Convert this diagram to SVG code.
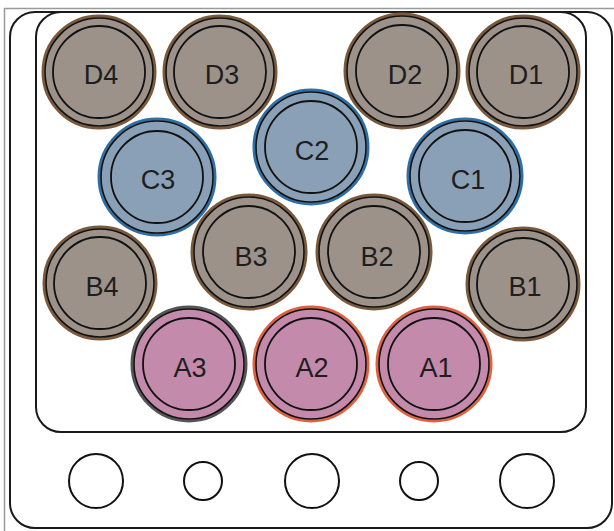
<svg xmlns="http://www.w3.org/2000/svg" width="614" height="531" viewBox="0 0 614 531">
<style>
.frame{fill:none;stroke:#1a1a1a;stroke-width:2}
.edge{fill:none;stroke:#111;stroke-width:1.6}
.inner{fill:none;stroke:#111;stroke-width:1.8}
.brown{fill:#9c928a;stroke:#7a5a3c;stroke-width:3}
.blue{fill:#8aa0b6;stroke:#2f6fa8;stroke-width:3}
.pinkg{fill:#c38aab;stroke:#555;stroke-width:3}
.pinkr{fill:#c38aab;stroke:#e0613f;stroke-width:3}
.hole{fill:#fff;stroke:#111;stroke-width:2}
text{font-family:"Liberation Sans",Arial,sans-serif;font-size:27px;fill:#1e1e1e;text-anchor:middle}
</style>
<rect width="614" height="531" fill="#fff"/>
<path d="M4.5 531 V8.5 H614" fill="none" stroke="#9a9a9a" stroke-width="1.5"/>
<g id="plate">
<rect class="frame" x="10" y="12" width="602" height="516" rx="25"/>
<rect class="frame" x="36" y="12" width="550" height="420" rx="25"/>
</g>
<g id="D4"><circle class="brown" cx="99" cy="72" r="56"/><circle class="edge" cx="99" cy="72" r="54"/><circle class="inner" cx="99" cy="72" r="46"/><text x="101" y="84">D4</text></g>
<g id="D3"><circle class="brown" cx="220" cy="72" r="56"/><circle class="edge" cx="220" cy="72" r="54"/><circle class="inner" cx="220" cy="72" r="46"/><text x="222" y="84">D3</text></g>
<g id="D2"><circle class="brown" cx="402" cy="71" r="57"/><circle class="edge" cx="402" cy="71" r="55"/><circle class="inner" cx="402" cy="71" r="46"/><text x="405" y="84">D2</text></g>
<g id="D1"><circle class="brown" cx="523" cy="72" r="56"/><circle class="edge" cx="523" cy="72" r="54"/><circle class="inner" cx="523" cy="72" r="46"/><text x="526" y="84">D1</text></g>
<g id="C3"><circle class="blue" cx="157" cy="177" r="58"/><circle class="edge" cx="157" cy="177" r="56"/><circle class="inner" cx="157" cy="177" r="46"/><text x="158" y="189">C3</text></g>
<g id="C2"><circle class="blue" cx="311" cy="147" r="57"/><circle class="edge" cx="311" cy="147" r="55"/><circle class="inner" cx="311" cy="147" r="46"/><text x="312" y="160">C2</text></g>
<g id="C1"><circle class="blue" cx="465" cy="176" r="57"/><circle class="edge" cx="465" cy="176" r="55"/><circle class="inner" cx="465" cy="176" r="46"/><text x="468" y="189">C1</text></g>
<g id="B4"><circle class="brown" cx="100" cy="283" r="56"/><circle class="edge" cx="100" cy="283" r="54"/><circle class="inner" cx="100" cy="283" r="46"/><text x="102" y="296">B4</text></g>
<g id="B3"><circle class="brown" cx="249" cy="252" r="57"/><circle class="edge" cx="249" cy="252" r="55"/><circle class="inner" cx="249" cy="252" r="46"/><text x="251" y="266">B3</text></g>
<g id="B2"><circle class="brown" cx="374" cy="252" r="57"/><circle class="edge" cx="374" cy="252" r="55"/><circle class="inner" cx="374" cy="252" r="46"/><text x="377" y="266">B2</text></g>
<g id="B1"><circle class="brown" cx="523" cy="284" r="56"/><circle class="edge" cx="523" cy="284" r="54"/><circle class="inner" cx="523" cy="284" r="46"/><text x="525" y="296">B1</text></g>
<g id="A3"><circle class="pinkg" cx="189" cy="364" r="57"/><circle class="edge" cx="189" cy="364" r="55"/><circle class="inner" cx="189" cy="364" r="46"/><text x="190" y="377">A3</text></g>
<g id="A2"><circle class="pinkr" cx="311" cy="364" r="57"/><circle class="edge" cx="311" cy="364" r="55"/><circle class="inner" cx="311" cy="364" r="46"/><text x="312" y="377">A2</text></g>
<g id="A1"><circle class="pinkr" cx="434" cy="364" r="57"/><circle class="edge" cx="434" cy="364" r="55"/><circle class="inner" cx="434" cy="364" r="46"/><text x="436" y="377">A1</text></g>
<g id="holes">
<circle class="hole" cx="96" cy="481" r="27"/>
<circle class="hole" cx="203" cy="481" r="19"/>
<circle class="hole" cx="312" cy="481" r="27"/>
<circle class="hole" cx="419" cy="481" r="19"/>
<circle class="hole" cx="527" cy="481" r="27"/>
</g>
</svg>
